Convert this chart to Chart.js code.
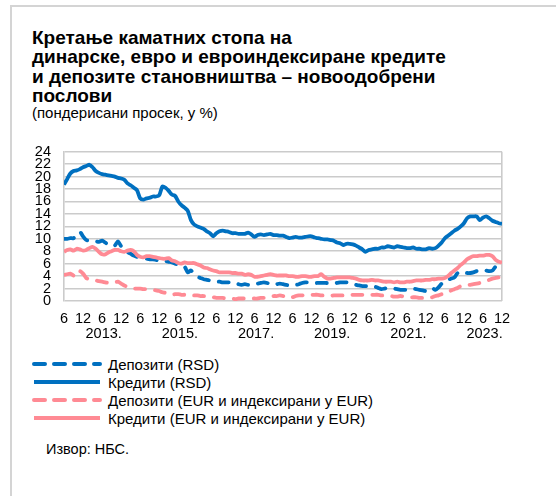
<!DOCTYPE html>
<html>
<head>
<meta charset="utf-8">
<script src="https://cdn.jsdelivr.net/npm/chart.js@4.4.1/dist/chart.umd.min.js"></script>
<style>
  html, body { margin: 0; padding: 0; background: #fff; }
  body { width: 556px; height: 496px; position: relative; overflow: hidden; font-family: "Liberation Sans", Arial, sans-serif; color: #000; }
  #frame { position: absolute; left: 10px; top: 5px; width: 600px; height: 600px; border: 2px solid #d4d4d4; }
  #title { position: absolute; left: 32px; top: 28px; font-size: 19px; font-weight: bold; line-height: 19.4px; white-space: nowrap; }
  #subtitle { position: absolute; left: 32px; top: 105px; font-size: 15px; line-height: 16px; white-space: nowrap; }
  #chartWrap { position: absolute; left: 0; top: 130px; width: 556px; height: 215px; }
  #legend { position: absolute; left: 32px; top: 355px; }
  .row { display: flex; align-items: center; height: 18px; font-size: 15px; white-space: nowrap; }
  .row svg { margin-right: 6px; }
  #source { position: absolute; left: 46px; top: 440px; font-size: 14.5px; line-height: 18px; }
</style>
</head>
<body>
<div id="frame"></div>
<div id="title">Кретање каматних стопа на<br>динарске, евро и евроиндексиране кредите<br>и депозите становништва – новоодобрени<br>послови</div>
<div id="subtitle">(пондерисани просек, у %)</div>
<div id="chartWrap"><canvas id="c" width="556" height="215"></canvas></div>
<div id="legend"></div>
<div id="source">Извор: НБС.</div>
<script>
// Monthly data, June 2012 – December 2023
const startYear = 2012;
const startMonth = 6;
const monthTickLabels = ['6', '12'];
const yearLabels = ['2013.', '2015.', '2017.', '2019.', '2021.', '2023.'];
const yTicks = [0, 2, 4, 6, 8, 10, 12, 14, 16, 18, 20, 22, 24];

const seriesNames = ['Депозити (RSD)', 'Кредити (RSD)', 'Депозити (EUR и индексирани у EUR)', 'Кредити (EUR и индексирани у EUR)'];

const depositsRSD = [
  10.0, 10.0, 10.1, 10.1, 10.5, 11.1, 10.4, 9.8, 9.7, 9.6, 9.6, 9.5,
  9.7, 9.4, 9.0, 8.9, 8.9, 9.6, 8.8, 8.4, 7.9, 7.6, 7.3, 7.1,
  7.0, 6.9, 6.8, 6.7, 6.7, 6.6, 6.5, 6.5, 6.4, 6.3, 6.2, 6.0,
  5.8, 5.6, 5.5, 4.6, 4.9, 4.3, 3.9, 3.7, 3.5, 3.4, 3.3, 3.2,
  3.1, 3.1, 3.0, 3.0, 3.0, 2.9, 2.9, 2.7, 2.6, 2.7, 2.6, 2.7,
  2.8, 2.8, 2.9, 3.0, 2.9, 2.7, 2.6, 2.7, 2.8, 2.7, 2.6, 2.5,
  2.5, 2.6, 2.7, 2.9, 3.0, 3.0, 3.0, 2.9, 2.9, 2.9, 2.9, 2.9,
  3.0, 2.9, 2.9, 3.0, 3.0, 3.0, 2.9, 2.8, 2.6, 2.5, 2.4, 2.4,
  2.3, 2.3, 2.3, 2.1, 1.9, 2.0, 2.1, 2.1, 2.0, 1.9, 1.8, 1.8,
  1.8, 1.9, 2.0, 1.9, 1.8, 1.7, 1.6, 1.8, 2.1, 1.8, 2.2, 2.8,
  3.2, 3.4, 3.6, 3.8, 4.5, 4.7, 4.6, 4.5, 4.5, 4.6, 4.8, 4.9,
  4.9, 4.9, 4.8, 4.9, 5.5, 5.3, 5.0
];
const loansRSD = [
  18.7, 19.6, 20.5, 20.9, 21.0, 21.2, 21.5, 21.7, 21.9, 21.5, 20.9, 20.6,
  20.4, 20.3, 20.2, 20.1, 20.0, 19.8, 19.7, 19.5, 18.9, 18.6, 18.2, 17.8,
  16.5, 16.3, 16.5, 16.6, 16.8, 16.8, 17.0, 18.4, 18.2, 17.7, 17.1, 16.9,
  16.0, 15.4, 15.0, 14.5, 13.0, 12.3, 12.0, 11.8, 11.6, 11.2, 10.9, 10.4,
  10.9, 11.2, 11.3, 11.2, 11.1, 10.9, 10.9, 10.8, 10.8, 10.8, 11.0, 10.7,
  10.3, 10.6, 10.7, 10.6, 10.7, 10.8, 10.6, 10.6, 10.5, 10.5, 10.3, 10.1,
  10.2, 10.3, 10.2, 10.2, 10.3, 10.4, 10.4, 10.2, 10.1, 10.0, 9.9, 9.9,
  9.8, 9.7, 9.4, 9.3, 9.0, 9.2, 9.2, 9.1, 8.9, 8.6, 8.3, 7.9,
  8.2, 8.3, 8.4, 8.4, 8.6, 8.6, 8.8, 8.7, 8.6, 8.8, 8.7, 8.6,
  8.5, 8.5, 8.6, 8.4, 8.4, 8.3, 8.3, 8.5, 8.4, 8.5, 8.9, 9.4,
  10.1, 10.5, 10.9, 11.3, 11.6, 12.0, 12.5, 13.3, 13.6, 13.6, 13.6, 13.0,
  13.4, 13.6, 13.3, 12.9, 12.7, 12.5, 12.4
];
const depositsEUR = [
  4.2, 4.3, 4.4, 4.1, 4.0, 4.8, 4.4, 3.7, 3.5, 3.4, 3.3, 3.2,
  3.1, 3.0, 2.9, 2.9, 3.0, 3.1, 2.8, 2.5, 2.3, 2.1, 2.0, 2.0,
  2.0, 1.9, 1.9, 1.8, 1.8, 1.7, 1.6, 1.4, 1.3, 1.1, 1.0, 1.1,
  1.1, 1.0, 1.0, 0.9, 0.9, 0.9, 0.9, 0.8, 0.8, 0.7, 0.7, 0.6,
  0.5, 0.5, 0.5, 0.4, 0.4, 0.4, 0.3, 0.4, 0.4, 0.4, 0.4, 0.4,
  0.4, 0.4, 0.5, 0.5, 0.6, 0.7, 0.8, 0.8, 0.9, 0.8, 0.6, 0.5,
  0.6, 0.8, 0.9, 0.9, 1.0, 1.0, 1.0, 1.0, 1.0, 0.9, 0.9, 0.9,
  0.8, 0.9, 0.9, 0.9, 0.9, 1.0, 1.0, 1.0, 1.0, 1.0, 1.0, 1.0,
  1.0, 1.0, 1.0, 1.0, 0.9, 0.9, 0.8, 0.8, 0.7, 0.7, 0.8, 0.7,
  0.7, 0.6, 0.6, 0.6, 0.5, 0.5, 0.5, 0.6, 0.6, 0.8, 0.9, 1.1,
  1.3, 1.4, 1.7, 1.9, 2.1, 2.4, 2.5, 2.6, 2.6, 2.7, 2.8, 2.9,
  3.0, 3.2, 3.4, 3.6, 3.7, 3.8, 3.9
];
const loansEUR = [
  7.9, 8.2, 8.3, 8.1, 8.4, 8.3, 8.1, 8.2, 8.5, 8.7, 8.4, 7.9,
  7.5, 7.5, 7.8, 8.0, 8.2, 8.2, 8.0, 7.9, 8.1, 8.2, 8.0, 7.4,
  7.1, 7.0, 7.2, 7.2, 7.1, 7.0, 6.9, 6.8, 6.8, 6.9, 6.5, 6.4,
  6.1, 6.0, 6.2, 6.1, 6.1, 6.1, 5.9, 5.7, 5.4, 5.3, 5.1, 4.9,
  4.8, 4.6, 4.6, 4.6, 4.6, 4.5, 4.5, 4.4, 4.4, 4.2, 4.3, 4.2,
  3.9, 3.9, 4.0, 4.1, 4.2, 4.3, 4.2, 4.1, 4.1, 4.1, 4.1, 4.0,
  4.0, 3.9, 3.9, 4.0, 4.0, 3.9, 3.9, 4.0, 4.0, 4.3, 3.9, 3.6,
  3.6, 3.7, 3.8, 3.8, 3.8, 3.8, 3.8, 3.7, 3.6, 3.4, 3.3, 3.3,
  3.3, 3.4, 3.3, 3.3, 3.2, 3.1, 3.1, 3.1, 3.0, 3.1, 3.0, 3.0,
  3.1, 3.1, 3.2, 3.3, 3.3, 3.3, 3.4, 3.4, 3.5, 3.5, 3.6, 3.6,
  3.7, 4.0, 4.5, 4.9, 5.3, 5.8, 6.2, 6.7, 7.0, 7.2, 7.2, 7.3,
  7.3, 7.4, 7.4, 7.2, 6.6, 6.3, 6.2
];

const BLUE = '#0070C0';
const PINK = '#FF8A94';
const GRID = '#cbcbcb';
const DASH = [10, 10];
const FONT = { family: '"Liberation Sans", Arial, sans-serif', size: 14.5 };

const seriesValues = [depositsRSD, loansRSD, depositsEUR, loansEUR];
const seriesColors = [BLUE, BLUE, PINK, PINK];
const seriesDashed = [true, false, true, false];
const seriesOrder = [4, 3, 2, 1];

const nPoints = depositsRSD.length;
const xMax = nPoints - 1;

const datasets = seriesValues.map((vals, k) => ({
  label: seriesNames[k],
  data: vals.map((v, i) => ({ x: i, y: v })),
  borderColor: seriesColors[k],
  backgroundColor: seriesColors[k],
  borderWidth: 3.8,
  borderDash: seriesDashed[k] ? DASH : [],
  borderCapStyle: seriesDashed[k] ? 'round' : 'butt',
  borderJoinStyle: 'round',
  pointRadius: 0,
  tension: 0.25,
  fill: false,
  order: seriesOrder[k]
}));

new Chart(document.getElementById('c'), {
  type: 'line',
  data: { datasets },
  options: {
    responsive: false,
    animation: false,
    events: [],
    layout: { padding: { left: 0, right: 54, top: 11, bottom: 0 } },
    plugins: { legend: { display: false }, tooltip: { enabled: false }, title: { display: false } },
    scales: {
      y: {
        min: 0, max: 24,
        afterBuildTicks: s => { s.ticks = yTicks.map(v => ({ value: v })); },
        afterFit: s => { s.width = 64; },
        ticks: { color: '#000', font: FONT, padding: 13, autoSkip: false },
        grid: { color: GRID, lineWidth: 1.6, drawTicks: false },
        border: { display: true, color: GRID, width: 1.6 }
      },
      x: {
        type: 'linear', position: 'bottom', min: 0, max: xMax, weight: 0,
        afterBuildTicks: s => {
          const t = [];
          for (let v = 0; v <= xMax; v += 6) t.push({ value: v });
          s.ticks = t;
        },
        afterFit: s => { s.height = 24; },
        ticks: {
          color: '#000', font: FONT, padding: 9, autoSkip: false, maxRotation: 0,
          callback: v => monthTickLabels[(Math.round(v) / 6) % 2]
        },
        grid: {
          drawTicks: false, lineWidth: 1.6,
          color: c => (c.tick && c.tick.value === xMax ? GRID : 'rgba(0,0,0,0)')
        },
        border: { display: false }
      },
      x2: {
        type: 'linear', position: 'bottom', min: 0, max: xMax, weight: 1,
        afterBuildTicks: s => {
          s.ticks = yearLabels.map((lab, k) => ({ value: 12.5 + 24 * k }));
        },
        afterFit: s => { s.height = 20; },
        ticks: {
          color: '#000', font: FONT, padding: 0, autoSkip: false, maxRotation: 0,
          callback: (v, idx) => yearLabels[idx]
        },
        grid: { display: false, drawTicks: false },
        border: { display: false }
      }
    }
  }
});

// HTML legend
const legend = document.getElementById('legend');
seriesNames.forEach((name, k) => {
  const row = document.createElement('div');
  row.className = 'row';
  const dash = seriesDashed[k] ? 'stroke-dasharray="11 9" stroke-linecap="round"' : 'stroke-linecap="butt"';
  row.innerHTML = '<svg width="70" height="8"><line x1="2" y1="4" x2="68" y2="4" stroke="' + seriesColors[k] + '" stroke-width="4" ' + dash + '/></svg><span></span>';
  row.querySelector('span').textContent = name;
  legend.appendChild(row);
});
</script>
</body>
</html>
